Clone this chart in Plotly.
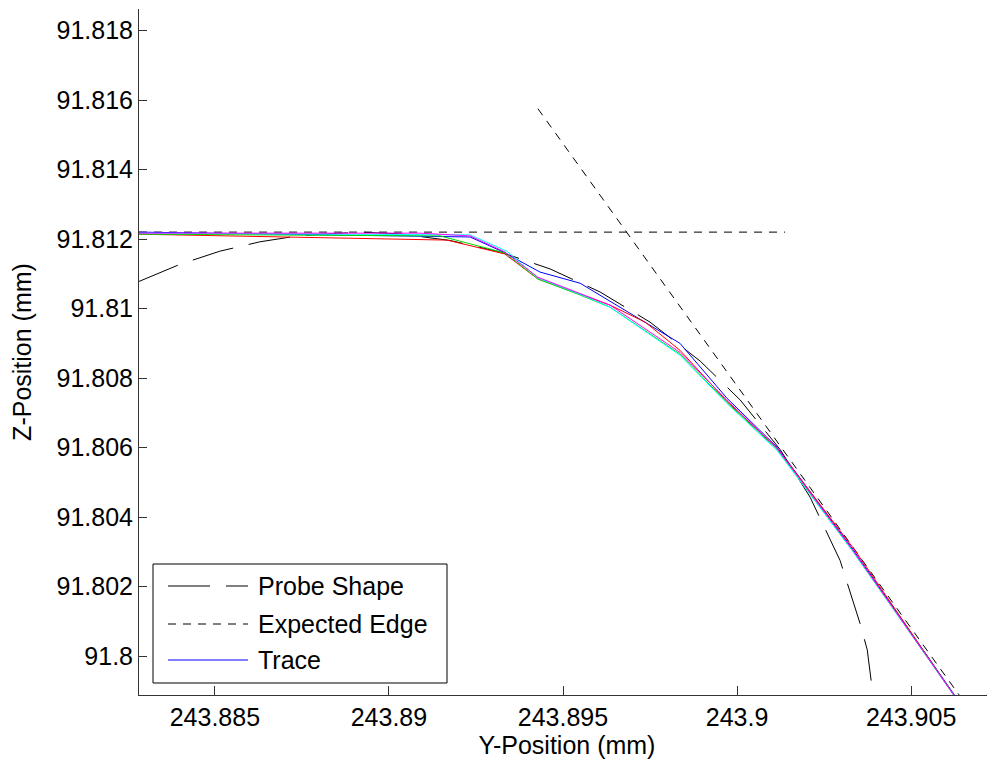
import plotly.graph_objects as go

# ---------------- data ----------------
probe_y = [243.88282, 243.88399, 243.88514, 243.88629, 243.88744, 243.88859, 243.88914,
           243.89032, 243.89175, 243.89319, 243.89463, 243.89606, 243.89750, 243.89894,
           243.90009, 243.90124, 243.90210, 243.90296, 243.90353, 243.90374, 243.90391]
probe_z = [91.81078, 91.81127, 91.81165, 91.81192, 91.81210, 91.81218, 91.81220,
           91.81215, 91.81196, 91.81163, 91.81114, 91.81048, 91.80961, 91.80849,
           91.80737, 91.80594, 91.80457, 91.80275, 91.80095, 91.80018, 91.79884]

edge_y = [243.88282, 243.90138, None, 243.89428, 243.90638]
edge_z = [91.81220, 91.81220, None, 91.81575, 91.79888]

trace_blue_y = [243.88282, 243.89233, 243.89328, 243.89434, 243.89549, 243.89799, 243.89836,
                243.89971, 243.90115, 243.90333, 243.90626]
trace_blue_z = [91.81220, 91.81206, 91.81163, 91.81105, 91.81073, 91.80923, 91.80900,
                91.80742, 91.80601, 91.80307, 91.79886]

trace_red_y = [243.88282, 243.89167, 243.89333, 243.89428, 243.89549, 243.89635, 243.89736,
               243.89836, 243.89971, 243.90115, 243.90339, 243.90626]
trace_red_z = [91.81214, 91.81197, 91.81157, 91.81085, 91.81041, 91.81010, 91.80961,
               91.80880, 91.80733, 91.80598, 91.80304, 91.79883]

trace_green_y = [243.88282, 243.89147, 243.89333, 243.89428, 243.89549, 243.89635, 243.89836,
                 243.89971, 243.90115, 243.90333, 243.90626]
trace_green_z = [91.81214, 91.81209, 91.81160, 91.81085, 91.81039, 91.81004, 91.80869,
                 91.80730, 91.80595, 91.80301, 91.79883]

trace_cyan_y = [243.88282, 243.89233, 243.89339, 243.89428, 243.89549, 243.89635, 243.89836,
                243.89971, 243.90115, 243.90333, 243.90626]
trace_cyan_z = [91.81217, 91.81212, 91.81165, 91.81088, 91.81041, 91.81004, 91.80866,
                91.80727, 91.80592, 91.80301, 91.79883]

trace_magenta_y = [243.88282, 243.89089, 243.89233, 243.89333, 243.89428, 243.89549, 243.89635,
                   243.89836, 243.89971, 243.90115, 243.90333, 243.90626]
trace_magenta_z = [91.81217, 91.81217, 91.81209, 91.81163, 91.81090, 91.81044, 91.81010,
                   91.80874, 91.80736, 91.80598, 91.80304, 91.79883]

x_tickvals = [243.885, 243.89, 243.895, 243.9, 243.905]
x_ticktext = ["243.885", "243.89", "243.895", "243.9", "243.905"]
y_tickvals = [91.8, 91.802, 91.804, 91.806, 91.808, 91.81, 91.812, 91.814, 91.816, 91.818]
y_ticktext = ["91.8", "91.802", "91.804", "91.806", "91.808", "91.81", "91.812", "91.814",
              "91.816", "91.818"]

legend_labels = ["Probe Shape", "Expected Edge", "Trace"]

FONT = "Liberation Sans, Arial, sans-serif"
FS = 25

fig = go.Figure()
fig.add_trace(go.Scatter(x=probe_y, y=probe_z, mode="lines", name=legend_labels[0],
                         line=dict(color="black", width=1, dash="42px,16px"), showlegend=False))
fig.add_trace(go.Scatter(x=edge_y, y=edge_z, mode="lines", name=legend_labels[1],
                         line=dict(color="black", width=1, dash="8px,7px"), showlegend=False))
for xs, zs, col in [(trace_blue_y, trace_blue_z, "#0000ff"),
                    (trace_red_y, trace_red_z, "#ff0000"),
                    (trace_green_y, trace_green_z, "#00dd00"),
                    (trace_cyan_y, trace_cyan_z, "#00ffff"),
                    (trace_magenta_y, trace_magenta_z, "#ff00ff")]:
    fig.add_trace(go.Scatter(x=xs, y=zs, mode="lines", name=legend_labels[2],
                             line=dict(color=col, width=1), showlegend=False))

# ---------------- manual MATLAB-style legend ----------------
# page body has an 8px default margin; screen coords are converted to plot-area fractions
L, T = 139, 9
PW, PH = 856, 686
def px(xp):
    return (xp - L) / PW
def py(yp):
    return (T + PH - yp) / PH

shapes = [dict(type="rect", xref="paper", yref="paper", x0=px(153), x1=px(447), y0=py(683), y1=py(564),
               line=dict(color="black", width=1), fillcolor="white", layer="above")]
leg_rows = [(586, "black", "42px,16px"), (624, "black", "8px,7px"), (660, "#0000ff", "solid")]
annotations = []
for (yy, col, dsh), lab in zip(leg_rows, legend_labels):
    shapes.append(dict(type="line", xref="paper", yref="paper", x0=px(168), x1=px(248), y0=py(yy), y1=py(yy),
                       line=dict(color=col, width=1, dash=dsh), layer="above"))
    annotations.append(dict(text=lab, xref="paper", yref="paper", x=px(256), y=py(yy), xanchor="left",
                            yanchor="middle", showarrow=False, font=dict(family=FONT, size=FS, color="black")))

fig.update_layout(
    width=987, height=757,
    margin=dict(l=131, r=0, t=1, b=70, autoexpand=False),
    plot_bgcolor="white", paper_bgcolor="white",
    font=dict(family=FONT, size=FS, color="black"),
    shapes=shapes, annotations=annotations,
    showlegend=False,
)
fig.update_xaxes(range=[243.88282, 243.90741], tickvals=x_tickvals, ticktext=x_ticktext,
                 showline=True, linecolor="#333333", linewidth=1, ticks="inside", ticklen=9,
                 tickcolor="#333333", showgrid=False, zeroline=False, automargin=False,
                 title=dict(text="Y-Position (mm)", font=dict(size=FS), standoff=6))
fig.update_yaxes(range=[91.79888, 91.81862], tickvals=y_tickvals, ticktext=y_ticktext,
                 showline=True, linecolor="#333333", linewidth=1, ticks="inside", ticklen=8,
                 tickcolor="#333333", showgrid=False, zeroline=False, ticklabelstandoff=0,
                 automargin=False,
                 title=dict(text="Z-Position (mm)", font=dict(size=FS), standoff=24))

fig.write_html("out.html")
